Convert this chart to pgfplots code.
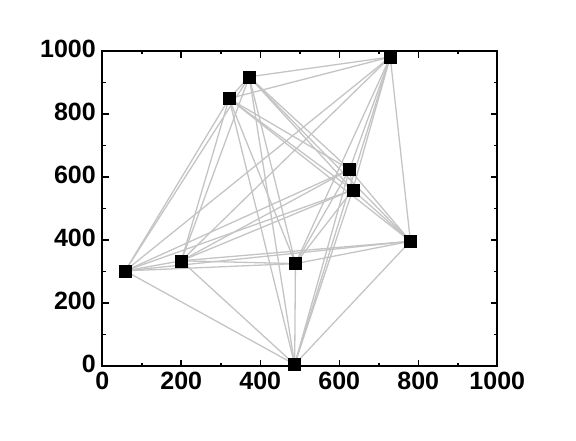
\documentclass[border=0pt]{standalone}
\usepackage{pgfplots}
\pgfplotsset{compat=1.18}
\usepackage{fontspec}
\setmainfont{Liberation Sans}
\definecolor{edgegray}{RGB}{196,196,196}
\tikzset{edge/.style={draw=edgegray, color=edgegray, line width=1.3pt, mark=none, solid}}
\begin{document}
\begin{tikzpicture}
\path (-102.3pt,-74pt) rectangle (473.7pt,366pt);
\begin{axis}[
  at={(0,0)}, anchor=south west,
  scale only axis, width=395pt, height=315pt,
  xmin=0, xmax=1000, ymin=0, ymax=1000,
  xtick={0,200,...,1000}, ytick={0,200,...,1000},
  minor tick num=1,
  tick align=inside,
  major tick length=6.5pt, minor tick length=3.5pt,
  every tick/.style={black, line width=1.6pt},
  axis line style={line width=2pt},
  ticklabel style={font=\fontsize{25}{30}\selectfont\bfseries},
  xticklabel style={yshift=-3pt},
  yticklabel style={xshift=-3pt, yshift=2pt},
  /pgf/number format/assume math mode=true,
  /pgf/number format/1000 sep={},
  clip=false,
]
% A (58,302) B (200,334) C (321,849) D (372,918) E (489,325)
% F (487,5) G (626,624) H (634,559) I (729,981) J (780,396)
\addplot[edge] coordinates {(58,302) (200,334)};
\addplot[edge] coordinates {(58,302) (321,849)};
\addplot[edge] coordinates {(58,302) (372,918)};
\addplot[edge] coordinates {(58,302) (489,325)};
\addplot[edge] coordinates {(58,302) (487,5)};
\addplot[edge] coordinates {(58,302) (626,624)};
\addplot[edge] coordinates {(58,302) (634,559)};
\addplot[edge] coordinates {(58,302) (729,981)};
\addplot[edge] coordinates {(58,302) (780,396)};
\addplot[edge] coordinates {(200,334) (321,849)};
\addplot[edge] coordinates {(200,334) (372,918)};
\addplot[edge] coordinates {(200,334) (489,325)};
\addplot[edge] coordinates {(200,334) (487,5)};
\addplot[edge] coordinates {(200,334) (626,624)};
\addplot[edge] coordinates {(200,334) (634,559)};
\addplot[edge] coordinates {(200,334) (729,981)};
\addplot[edge] coordinates {(200,334) (780,396)};
\addplot[edge] coordinates {(321,849) (372,918)};
\addplot[edge] coordinates {(321,849) (489,325)};
\addplot[edge] coordinates {(321,849) (487,5)};
\addplot[edge] coordinates {(321,849) (626,624)};
\addplot[edge] coordinates {(321,849) (634,559)};
\addplot[edge] coordinates {(321,849) (729,981)};
\addplot[edge] coordinates {(321,849) (780,396)};
\addplot[edge] coordinates {(372,918) (489,325)};
\addplot[edge] coordinates {(372,918) (487,5)};
\addplot[edge] coordinates {(372,918) (626,624)};
\addplot[edge] coordinates {(372,918) (634,559)};
\addplot[edge] coordinates {(372,918) (729,981)};
\addplot[edge] coordinates {(372,918) (780,396)};
\addplot[edge] coordinates {(489,325) (487,5)};
\addplot[edge] coordinates {(489,325) (626,624)};
\addplot[edge] coordinates {(489,325) (634,559)};
\addplot[edge] coordinates {(489,325) (729,981)};
\addplot[edge] coordinates {(489,325) (780,396)};
\addplot[edge] coordinates {(487,5) (626,624)};
\addplot[edge] coordinates {(487,5) (634,559)};
\addplot[edge] coordinates {(487,5) (729,981)};
\addplot[edge] coordinates {(487,5) (780,396)};
\addplot[edge] coordinates {(626,624) (634,559)};
\addplot[edge] coordinates {(626,624) (729,981)};
\addplot[edge] coordinates {(626,624) (780,396)};
\addplot[edge] coordinates {(634,559) (729,981)};
\addplot[edge] coordinates {(634,559) (780,396)};
\addplot[edge] coordinates {(729,981) (780,396)};
\addplot[black, only marks, mark=square*, mark size=6pt] coordinates {
(58,302) (200,334) (321,849) (372,918) (489,325)
(487,5) (626,624) (634,559) (729,981) (780,396)};
\end{axis}
\end{tikzpicture}
\end{document}
